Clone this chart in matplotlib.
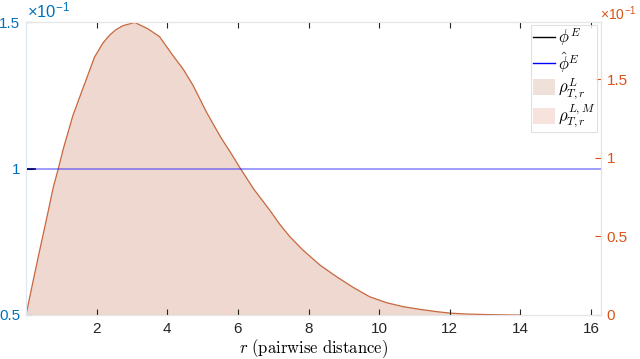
import matplotlib
matplotlib.use("Agg")
import matplotlib.pyplot as plt
from matplotlib.patches import Patch
from matplotlib.lines import Line2D

plt.rcParams['font.family'] = ['Liberation Sans', 'DejaVu Sans']
plt.rcParams['mathtext.fontset'] = 'cm'

# pairwise distance density (values in units of 1e-1, right axis)
r = [0, 0.2, 0.4, 0.6, 0.77, 0.92, 1.06, 1.33, 1.61, 1.94, 2.18, 2.37, 2.55,
     2.75, 3.08, 3.45, 3.78, 4.16, 4.46, 4.73, 5.11, 5.5, 5.8, 6.06, 6.45,
     6.9, 7.18, 7.47, 7.84, 8.32, 8.79, 9.26, 9.73, 10.21, 10.68, 11.15,
     11.6, 12.0, 12.5, 13.0, 13.8, 14.0]
rho = [0, 0.215, 0.425, 0.63, 0.81, 0.935, 1.06, 1.27, 1.44, 1.64, 1.73,
       1.78, 1.815, 1.84, 1.86, 1.82, 1.77, 1.65, 1.56, 1.46, 1.29, 1.135,
       1.03, 0.935, 0.80, 0.667, 0.578, 0.498, 0.413, 0.318, 0.244, 0.176,
       0.116, 0.078, 0.053, 0.036, 0.022, 0.012, 0.006, 0.003, 0.0, 0.0]

# interaction kernels (left axis, units of 1e-1)
r_true = [0, 0.25]
phi_true = [1.0, 1.0]
r_hat = [0, 16.28]
phi_hat = [1.0, 1.0]

xticks = [2, 4, 6, 8, 10, 12, 14, 16]
left_ticks = [0.5, 1, 1.5]
right_ticks = [0, 0.5, 1, 1.5]

blue = '#0072BD'
orange = '#D95319'

fig = plt.figure(figsize=(6.4, 3.59), dpi=100)
ax = fig.add_axes([26/640, 44/359, 575/640, 293/359])
ax2 = ax.twinx()
ax.set_zorder(ax2.get_zorder() + 1)
ax.patch.set_visible(False)

ax2.fill_between(r, rho, 0, facecolor='#eed8cf', edgecolor='none')
ax2.plot(r, rho, color='#c8673e', lw=0.9)
ax2.set_ylim(0, 1.863)
ax2.set_yticks(right_ticks)
ax2.set_yticklabels(['0', '0.5', '1', '1.5'])

ax.plot(r_true, phi_true, color='black', lw=1.2)
ax.plot(r_hat, phi_hat, color='blue', lw=1.2, alpha=0.45)
ax.set_xlim(0, 16.28)
ax.set_ylim(0.5, 1.5)
ax.set_yticks(left_ticks)
ax.set_yticklabels(['0.5', '1', '1.5'])
ax.set_xticks(xticks)

ax.tick_params(axis='x', direction='in', length=4, top=True, colors='#262626',
               labelsize=11, pad=5)
ax.tick_params(axis='y', direction='in', length=4, colors=blue, labelsize=11, pad=4)
ax2.tick_params(axis='y', direction='in', length=4, colors=orange, labelsize=11, pad=4)
for a in (ax, ax2):
    a.spines['top'].set_color('#e6e6e6')
    a.spines['bottom'].set_color('#e6e6e6')
    a.spines['left'].set_color('#dfeaf6')
    a.spines['right'].set_color('#f7ddd1')

ax.text(0.002, 1.006, r'×10$^{\mathregular{-1}}$', transform=ax.transAxes,
        color=blue, fontsize=12, ha='left', va='bottom')
ax.text(0.999, 0.995, r'×10$^{\mathregular{-1}}$', transform=ax.transAxes,
        color=orange, fontsize=10, ha='left', va='bottom')

ax.set_xlabel(r'$r\ \mathrm{(pairwise\ distance)}$', fontsize=12, labelpad=1)

handles = [Line2D([], [], color='black', lw=1),
           Line2D([], [], color='blue', lw=1),
           Patch(facecolor='#efe0d9', edgecolor='none'),
           Patch(facecolor='#f8e2dd', edgecolor='none')]
labels = [r'$\phi^E$', r'$\hat\phi^E$', r'$\rho_{T,r}^{L}$', r'$\rho_{T,r}^{L,M}$']
leg = ax.legend(handles, labels, loc='upper right', bbox_to_anchor=(0.993, 0.99),
                fontsize=12, frameon=True, fancybox=False, handlelength=1.3,
                handleheight=1.1, handletextpad=0.2, borderpad=0.1,
                labelspacing=0.1, borderaxespad=0)
leg.get_frame().set_edgecolor('#d9d9d9')
leg.get_frame().set_linewidth(0.8)

fig.savefig('out.png', dpi=100)
